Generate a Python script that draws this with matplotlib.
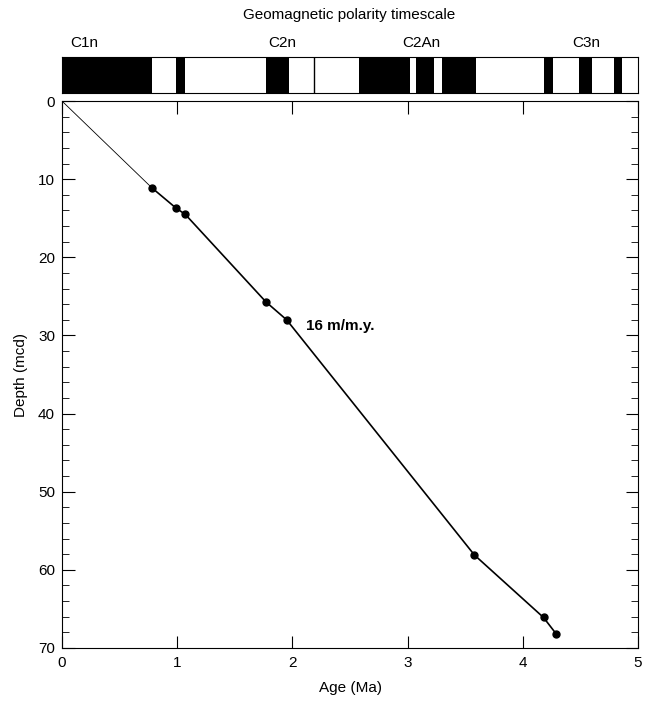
import matplotlib.pyplot as plt
from matplotlib.ticker import MultipleLocator

plt.rcParams['font.family'] = ['Liberation Sans', 'DejaVu Sans']

# age-depth tie points
age = [0.78, 0.99, 1.07, 1.77, 1.95, 3.58, 4.18, 4.29]
depth = [11.1, 13.7, 14.5, 25.7, 28.0, 58.1, 66.1, 68.2]

# normal polarity intervals (Ma)
normal_start = [0.0, 0.99, 1.77, 2.19, 2.58, 3.07, 3.30, 4.18, 4.49, 4.79]
normal_end = [0.78, 1.07, 1.97, 2.20, 3.02, 3.23, 3.59, 4.26, 4.60, 4.86]
chron_names = ['C1n', 'C2n', 'C2An', 'C3n']
chron_pos = [0.19, 1.91, 3.12, 4.55]

fig = plt.figure(figsize=(6.53, 7.07), dpi=100)
ax = fig.add_axes([0.095, 0.0835, 0.882, 0.7735])
bar = fig.add_axes([0.095, 0.8685, 0.882, 0.0509])

# polarity bar
for s, e in zip(normal_start, normal_end):
    if e - s < 0.03:
        bar.axvline(s, color='black', lw=1)
    else:
        bar.axvspan(s, e, color='black', lw=0)
bar.set_xlim(0, 5)
bar.set_ylim(0, 1)
bar.set_xticks([])
bar.set_yticks([])
for name, x in zip(chron_names, chron_pos):
    bar.text(x, 1.2, name, ha='center', va='bottom', fontsize=11)
fig.text(0.535, 0.979, 'Geomagnetic polarity timescale', ha='center', va='center', fontsize=11)

# age-depth plot
ax.plot([0, age[0]], [0, depth[0]], color='black', lw=0.6)
ax.plot(age, depth, color='black', lw=1.2, marker='o', ms=5)
ax.text(2.12, 29.3, '16 m/m.y.', fontsize=11, fontweight='bold')

ax.set_xlim(0, 5)
ax.set_ylim(70, 0)
ax.xaxis.set_major_locator(MultipleLocator(1))
ax.yaxis.set_major_locator(MultipleLocator(10))
ax.yaxis.set_minor_locator(MultipleLocator(2))
ax.tick_params(which='both', direction='in', top=True, right=True, labelsize=11)
ax.tick_params(which='major', length=9)
ax.tick_params(which='minor', length=5)
ax.tick_params(axis='x', which='major', pad=6)
ax.tick_params(axis='y', which='major', pad=5)
ax.set_xlabel('Age (Ma)', fontsize=11, labelpad=8)
ax.set_ylabel('Depth (mcd)', fontsize=11, labelpad=7)

fig.savefig('out.png', dpi=100)
